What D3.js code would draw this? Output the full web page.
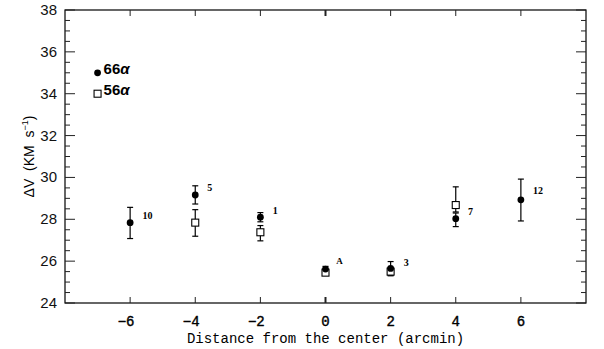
<!DOCTYPE html>
<html>
<head>
  <title>dv</title>
  <script src="https://d3js.org/d3.v7.min.js"></script>
  <style>
    body { margin: 0; background: #fff; }
  </style>
</head>
<body>
  <svg width="604" height="349" id="mainsvg"></svg>
  <script>
    // 66alpha (filled circles)
    const pos66 = [-6, -4, -2, 0, 2, 4, 6];
    const v66 = [27.84, 29.16, 28.1, 25.62, 25.65, 28.03, 28.93];
    const v66lo = [27.08, 28.73, 27.88, 25.5, 25.32, 27.65, 27.92];
    const v66hi = [28.57, 29.6, 28.32, 25.75, 25.98, 28.3, 29.92];
    // 56alpha (open squares)
    const pos56 = [-4, -2, 0, 2, 4];
    const v56 = [27.84, 27.38, 25.45, 25.5, 28.68];
    const v56lo = [27.19, 26.97, 25.35, 25.3, 28.35];
    const v56hi = [28.46, 27.7, 25.55, 25.7, 29.55];
    // source labels
    const labNames = ['10', '5', '1', 'A', '3', '7', '12'];
    const labX = [-5.62, -3.63, -1.62, 0.33, 2.4, 4.38, 6.37];
    const labY = [28.2, 29.55, 28.45, 26.05, 25.95, 28.4, 29.4];

    const xTicks = [-6, -4, -2, 0, 2, 4, 6];
    const yTicks = [24, 26, 28, 30, 32, 34, 36, 38];

    let svg = d3.select('#mainsvg');
    const x = d3.scaleLinear().domain([-8, 8]).range([65, 586]);
    const y = d3.scaleLinear().domain([24, 38]).range([303, 10]);
    const yMinor = d3.range(24, 38.01, 0.5);

    // frame
    svg.append('rect')
      .attr('x', x(-8)).attr('y', y(38))
      .attr('width', x(8) - x(-8)).attr('height', y(24) - y(38))
      .attr('fill', 'none').attr('stroke', '#000').attr('stroke-width', 1.2);

    // y ticks left and right
    let tk = svg.append('g').attr('stroke', '#222').attr('stroke-width', 1);
    yMinor.forEach(v => {
      let len = (Math.abs(v % 2) < 1e-6) ? 10 : 5;
      tk.append('line').attr('x1', x(-8)).attr('x2', x(-8) + len)
        .attr('y1', y(v)).attr('y2', y(v));
      tk.append('line').attr('x1', x(8)).attr('x2', x(8) - len)
        .attr('y1', y(v)).attr('y2', y(v));
    });
    // x ticks bottom and top
    xTicks.forEach(v => {
      let w = v === 0 ? 2 : 1;
      tk.append('line').attr('x1', x(v)).attr('x2', x(v))
        .attr('y1', y(24)).attr('y2', y(24) - 6).attr('stroke-width', w);
      tk.append('line').attr('x1', x(v)).attr('x2', x(v))
        .attr('y1', y(38)).attr('y2', y(38) + 6).attr('stroke-width', w);
    });

    // y tick labels
    svg.selectAll('.ylab').data(yTicks).enter().append('text')
      .attr('x', 57).attr('y', d => y(d) + 5)
      .attr('text-anchor', 'end')
      .attr('font-family', 'Liberation Sans, Arial')
      .attr('font-size', 15)
      .attr('fill', '#111')
      .text(d => d);

    // x tick labels
    svg.selectAll('.xlab').data(xTicks).enter().append('text')
      .attr('x', d => x(d) + (d < 0 ? -4 : 0)).attr('y', 326)
      .attr('text-anchor', 'middle')
      .attr('font-family', 'Liberation Mono, DejaVu Sans Mono')
      .attr('font-size', 14)
      .attr('stroke', '#000').attr('stroke-width', 0.4)
      .text(d => d < 0 ? '\u2212' + Math.abs(d) : d);

    svg.append('text')
      .attr('x', x(0)).attr('y', 343)
      .attr('text-anchor', 'middle')
      .attr('font-family', 'Liberation Mono, DejaVu Sans Mono')
      .attr('font-size', 14)
      .text('Distance from the center (arcmin)');

    // y title
    let yt = svg.append('text')
      .attr('transform', 'translate(34,' + y(31) + ') rotate(-90)')
      .attr('text-anchor', 'middle')
      .attr('font-family', 'Liberation Sans, Arial')
      .attr('font-size', 14);
    yt.append('tspan').text('\u0394V\u00a0\u00a0(KM\u00a0\u00a0s');
    yt.append('tspan').attr('dy', -6).attr('font-size', 9).text('\u22121');
    yt.append('tspan').attr('dy', 6).text(')');

    // error bars
    function errbars(ps, lo, hi) {
      let g = svg.append('g').attr('stroke', '#000').attr('stroke-width', 1.2);
      ps.forEach((p, i) => {
        g.append('line').attr('x1', x(p)).attr('x2', x(p))
          .attr('y1', y(lo[i])).attr('y2', y(hi[i]));
        [lo[i], hi[i]].forEach(v => {
          g.append('line').attr('x1', x(p) - 3).attr('x2', x(p) + 3)
            .attr('y1', y(v)).attr('y2', y(v));
        });
      });
    }
    errbars(pos66, v66lo, v66hi);
    errbars(pos56, v56lo, v56hi);

    svg.selectAll('.sq').data(pos56).enter().append('rect')
      .attr('x', d => x(d) - 3.5).attr('y', (d, i) => y(v56[i]) - 3.5)
      .attr('width', 7).attr('height', 7)
      .attr('fill', '#fff').attr('stroke', '#000').attr('stroke-width', 1.1);

    svg.selectAll('.dot').data(pos66).enter().append('circle')
      .attr('cx', d => x(d)).attr('cy', (d, i) => y(v66[i]))
      .attr('r', 3.4).attr('fill', '#000');

    // source labels
    svg.selectAll('.src').data(labNames).enter().append('text')
      .attr('x', (d, i) => x(labX[i])).attr('y', (d, i) => y(labY[i]) + 4)
      .attr('font-family', 'Liberation Serif, Times New Roman')
      .attr('font-weight', 'bold')
      .attr('font-size', d => d === 'A' ? 9 : 10)
      .text(d => d);

    // legend
    svg.append('circle').attr('cx', x(-7)).attr('cy', y(35)).attr('r', 3.4).attr('fill', '#000');
    svg.append('rect').attr('x', x(-7) - 3.5).attr('y', y(34) - 3.5)
      .attr('width', 7).attr('height', 7)
      .attr('fill', '#fff').attr('stroke', '#000').attr('stroke-width', 1.1);
    const legNames = ['66', '56'];
    const legY = [35, 34];
    legNames.forEach((n, i) => {
      let t = svg.append('text')
        .attr('x', x(-7) + 6).attr('y', y(legY[i]) + 1)
        .attr('font-family', 'Liberation Sans, Arial')
        .attr('font-weight', 'bold')
        .attr('font-size', 15);
      t.append('tspan').text(n);
      t.append('tspan').attr('font-style', 'italic').text('\u03b1');
    });
  </script>
</body>
</html>
